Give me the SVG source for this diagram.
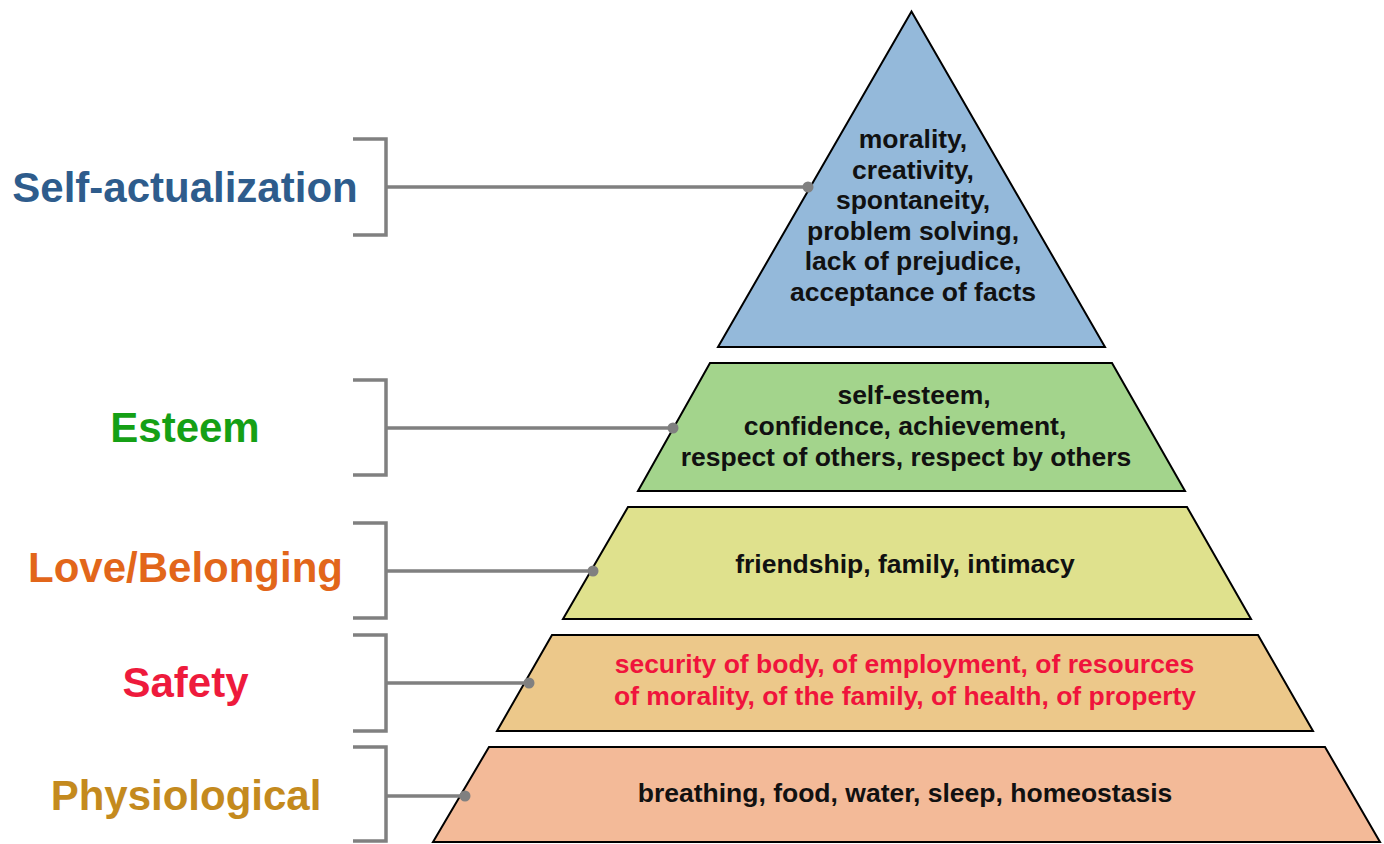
<svg xmlns="http://www.w3.org/2000/svg" width="1384" height="844" viewBox="0 0 1384 844">
<style>
.lvl{stroke:#000;stroke-width:2;stroke-linejoin:miter}
.in{font-family:"Liberation Sans",Arial,sans-serif;font-weight:bold;font-size:26.5px;text-anchor:middle;fill:#111}
.in.red{fill:#f0143c}
.lab{font-family:"Liberation Sans",Arial,sans-serif;font-weight:bold;font-size:42px;text-anchor:middle}
.br{fill:none;stroke:#808080;stroke-width:3.5}
.dot{fill:#808080}
</style>
<rect width="1384" height="844" fill="#fff"/>
<g id="self-actualization">
<polygon class="lvl" points="911.5,11.5 718,347 1105,347" fill="#94b9da"/>
<text class="in" x="913" y="148">morality,</text>
<text class="in" x="913" y="178.5">creativity,</text>
<text class="in" x="913" y="209">spontaneity,</text>
<text class="in" x="913" y="239.5">problem solving,</text>
<text class="in" x="913" y="270">lack of prejudice,</text>
<text class="in" x="913" y="300.5">acceptance of facts</text>
<text class="lab" x="185" y="202" fill="#2e5c8c">Self-actualization</text>
</g>
<g id="esteem">
<polygon class="lvl" points="710,363 1112,363 1185,491 638,491" fill="#a3d48c"/>
<text class="in" x="914" y="404">self-esteem,</text>
<text class="in" x="905" y="435">confidence, achievement,</text>
<text class="in" x="906" y="466">respect of others, respect by others</text>
<text class="lab" x="185" y="442" fill="#15a015">Esteem</text>
</g>
<g id="love">
<polygon class="lvl" points="628,507 1187,507 1251,619 563,619" fill="#dfe18d"/>
<text class="in" x="905" y="573">friendship, family, intimacy</text>
<text class="lab" x="185.5" y="582" fill="#e2661a">Love/Belonging</text>
</g>
<g id="safety">
<polygon class="lvl" points="552,635 1258,635 1313,731 497,731" fill="#ecc88a"/>
<text class="in red" x="904.5" y="673">security of body, of employment, of resources</text>
<text class="in red" x="905" y="705">of morality, of the family, of health, of property</text>
<text class="lab" x="185.5" y="697" fill="#ee1a3c">Safety</text>
</g>
<g id="physiological">
<polygon class="lvl" points="489,747 1325,747 1380,842 433,842" fill="#f3ba98"/>
<text class="in" x="905" y="802">breathing, food, water, sleep, homeostasis</text>
<text class="lab" x="186" y="810" fill="#c48a1e">Physiological</text>
</g>
<g id="connectors">
<path class="br" d="M353,139H386V235H353M386,187H808"/>
<circle class="dot" cx="808" cy="187" r="5.5"/>
<path class="br" d="M353,380H386V475H353M386,428H673"/>
<circle class="dot" cx="673" cy="428" r="5.5"/>
<path class="br" d="M353,523H386V618H353M386,571H593"/>
<circle class="dot" cx="593" cy="571" r="5.5"/>
<path class="br" d="M353,635H386V731H353M386,683H529"/>
<circle class="dot" cx="529" cy="683" r="5.5"/>
<path class="br" d="M353,747H386V841H353M386,796H465"/>
<circle class="dot" cx="465" cy="796" r="5.5"/>
</g>
</svg>
